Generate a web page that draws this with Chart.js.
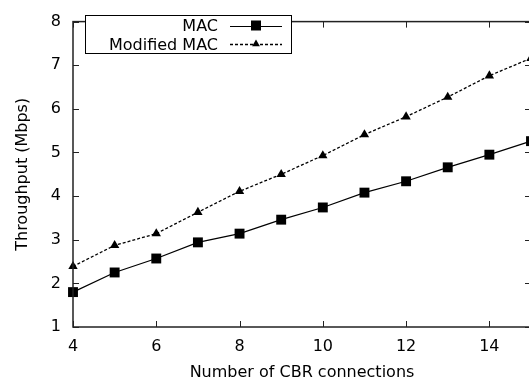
<!DOCTYPE html>
<html><head><meta charset="utf-8">
<script src="https://cdn.jsdelivr.net/npm/chart.js@4"></script>
<style>html,body{margin:0;padding:0;background:#fff;overflow:hidden;width:529px;height:388px}canvas{display:block}</style>
</head><body>
<canvas id="c" width="540" height="388" style="width:540px;height:388px"></canvas>
<script>
const connections = [4, 5, 6, 7, 8, 9, 10, 11, 12, 13, 14, 15];
const macThroughput = [1.80, 2.25, 2.57, 2.94, 3.14, 3.46, 3.74, 4.08, 4.34, 4.66, 4.95, 5.26];
const modifiedMacThroughput = [2.39, 2.87, 3.14, 3.63, 4.11, 4.50, 4.93, 5.41, 5.82, 6.27, 6.76, 7.16];
const xTickValues = [4, 6, 8, 10, 12, 14];
const yTickValues = [1, 2, 3, 4, 5, 6, 7, 8];
const seriesLabels = ['MAC', 'Modified MAC'];
const xTitle = 'Number of CBR connections';
const yTitle = 'Throughput (Mbps)';

const FONT = 'DejaVu Sans';
const FS = 16;

const toPoints = (xs, ys) => xs.map((x, i) => ({x: x, y: ys[i]}));

const framePlugin = {
  id: 'frame',
  afterDatasetsDraw(chart) {
    const {ctx, chartArea: a, scales: {x, y}} = chart;
    ctx.save();
    ctx.strokeStyle = '#222';
    ctx.lineWidth = 1.5;
    ctx.strokeRect(a.left, a.top, a.right - a.left, a.bottom - a.top);
    ctx.lineWidth = 1;
    ctx.beginPath();
    x.ticks.forEach(t => {
      const px = Math.round(x.getPixelForValue(t.value)) + 0.5;
      ctx.moveTo(px, a.bottom); ctx.lineTo(px, a.bottom - 6);
      ctx.moveTo(px, a.top); ctx.lineTo(px, a.top + 6);
    });
    y.ticks.forEach(t => {
      const py = Math.round(y.getPixelForValue(t.value)) + 0.5;
      ctx.moveTo(a.left, py); ctx.lineTo(a.left + 6, py);
      ctx.moveTo(a.right, py); ctx.lineTo(a.right - 6, py);
    });
    ctx.stroke();

    // legend (gnuplot style: right-aligned text, sample to the right)
    const bx = 85.5, by = 15.5, bw = 206, bh = 38;
    ctx.fillStyle = '#fff';
    ctx.fillRect(bx, by, bw, bh);
    ctx.strokeStyle = '#000';
    ctx.lineWidth = 1;
    ctx.strokeRect(bx, by, bw, bh);
    const rows = [25.5, 44];
    ctx.font = FS + 'px "' + FONT + '"';
    ctx.textAlign = 'right';
    ctx.textBaseline = 'alphabetic';
    chart.data.datasets.forEach((ds, i) => {
      const cy = rows[i];
      ctx.fillStyle = '#000';
      ctx.fillText(ds.label, 218, cy + 5.5);
      ctx.save();
      ctx.strokeStyle = '#000';
      ctx.lineWidth = ds.borderWidth;
      ctx.setLineDash(ds.borderDash || []);
      ctx.beginPath();
      ctx.moveTo(230, Math.round(cy) + 0.5);
      ctx.lineTo(282, Math.round(cy) + 0.5);
      ctx.stroke();
      ctx.restore();
      ctx.fillStyle = '#000';
      ctx.beginPath();
      if (ds.pointStyle === 'rect') {
        ctx.rect(256 - 5, cy - 5, 10, 10);
      } else {
        const r = 4.5;
        ctx.moveTo(256, cy - r);
        ctx.lineTo(256 + r * 0.866, cy + r * 0.5);
        ctx.lineTo(256 - r * 0.866, cy + r * 0.5);
        ctx.closePath();
      }
      ctx.fill();
    });
    ctx.restore();
  }
};

new Chart(document.getElementById('c'), {
  type: 'line',
  data: {
    datasets: [
      {
        label: seriesLabels[0],
        data: toPoints(connections, macThroughput),
        borderColor: '#000', backgroundColor: '#000', borderWidth: 1.2,
        pointStyle: 'rect', pointRadius: 7, pointBorderWidth: 0,
        pointBackgroundColor: '#000', tension: 0, clip: false
      },
      {
        label: seriesLabels[1],
        data: toPoints(connections, modifiedMacThroughput),
        borderColor: '#000', backgroundColor: '#000', borderWidth: 1.3,
        borderDash: [3, 2],
        pointStyle: 'triangle', pointRadius: 5.4, pointBorderWidth: 0,
        pointBackgroundColor: '#000', tension: 0, clip: false
      }
    ]
  },
  options: {
    responsive: false,
    animation: false,
    devicePixelRatio: 1,
    layout: {padding: {left: 0, right: 9, top: 13, bottom: 0}},
    plugins: {legend: {display: false}, tooltip: {enabled: false}},
    scales: {
      x: {
        type: 'linear', min: 4, max: 15,
        afterBuildTicks: s => { s.ticks = xTickValues.map(v => ({value: v})); },
        afterFit: s => { s.height = 61; },
        grid: {display: false, drawTicks: false},
        border: {display: false},
        ticks: {color: '#000', font: {family: FONT, size: FS}, padding: 10, maxRotation: 0, autoSkip: false},
        title: {display: true, text: xTitle, color: '#000', font: {family: FONT, size: FS}, padding: {top: 0, bottom: 5.4}}
      },
      y: {
        type: 'linear', min: 1, max: 8,
        afterBuildTicks: s => { s.ticks = yTickValues.map(v => ({value: v})); },
        afterFit: s => { s.width = 73; },
        grid: {display: false, drawTicks: false},
        border: {display: false},
        ticks: {color: '#000', font: {family: FONT, size: FS}, padding: 12, autoSkip: false},
        title: {display: true, text: yTitle, color: '#000', font: {family: FONT, size: FS}, padding: {top: 13.4, bottom: 0}}
      }
    }
  },
  plugins: [framePlugin]
});
</script>
</body></html>
